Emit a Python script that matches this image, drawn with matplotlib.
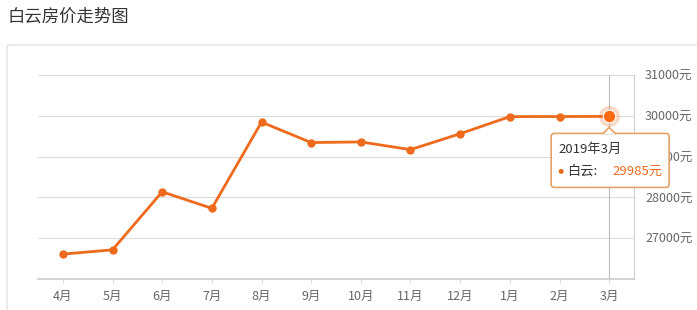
import matplotlib
matplotlib.use('Agg')
import matplotlib.pyplot as plt
from matplotlib.patches import FancyBboxPatch, Polygon, Circle
from matplotlib.transforms import IdentityTransform

plt.rcParams['font.family'] = ['Noto Sans CJK SC', 'DejaVu Sans']

months = ['4月', '5月', '6月', '7月', '8月', '9月', '10月', '11月', '12月', '1月', '2月', '3月']
prices = [26610, 26715, 28137, 27732, 29845, 29344, 29360, 29171, 29561, 29980, 29982, 29985]
y_ticks = [27000, 28000, 29000, 30000, 31000]
tip_title = '2019年3月'
tip_name = '白云'

W, H = 697, 310
orange = '#ee6a1c'
gray_text = '#666666'

fig = plt.figure(figsize=(W / 100, H / 100), dpi=100)
fig.patch.set_facecolor('white')


def fx(x):
    return x / W


def fy(y):
    return 1 - y / H


# outer panel
panel = FancyBboxPatch((fx(7), fy(330)), fx(700), fy(45) - fy(330),
                       boxstyle='round,pad=0,rounding_size=0.006',
                       transform=fig.transFigure, facecolor='white',
                       edgecolor='#e2e2e2', linewidth=1, zorder=-1)
fig.patches.append(panel)

fig.text(fx(7), fy(17), '白云房价走势图', fontsize=12.5, color='#333333',
         ha='left', va='center')

ax = fig.add_axes([fx(38), fy(279), fx(634) - fx(38), fy(75) - fy(279)])
ax.set_facecolor('none')
x = list(range(len(months)))
ax.set_xlim(-0.5, len(months) - 0.5)
ax.set_ylim(26000, 31000)

for v in y_ticks:
    ax.axhline(v, color='#dddddd', lw=0.8, zorder=1)

for s in ['left', 'top']:
    ax.spines[s].set_visible(False)
ax.spines['right'].set_color('#d0d0d0')
ax.spines['right'].set_linewidth(0.8)
ax.spines['bottom'].set_color('#cccccc')
ax.spines['bottom'].set_linewidth(1.2)

ax.yaxis.tick_right()
ax.set_yticks(y_ticks)
ax.set_yticklabels([f'{v}元' for v in y_ticks], fontsize=9, color=gray_text)
ax.tick_params(axis='y', length=0, pad=8)
ax.set_xticks(x)
ax.set_xticklabels(months, fontsize=9, color=gray_text)
ax.tick_params(axis='x', length=3, color='#dddddd', pad=5)

# axis pointer at last month
ax.axvline(x[-1], color='#bbbbbb', lw=0.8, zorder=2)

ax.plot(x, prices, color=orange, lw=2, marker='o', markersize=5,
        zorder=3, solid_joinstyle='round')
ax.plot(x[-1], prices[-1], 'o', color=orange, markersize=15, alpha=0.25,
        zorder=4, markeredgewidth=0)
ax.plot(x[-1], prices[-1], 'o', color='#ff6a10', markersize=9, zorder=5,
        markeredgecolor='white', markeredgewidth=0.8)

# tooltip in pixel coords relative to last point
fig.canvas.draw()
px, py = ax.transData.transform((x[-1], prices[-1]))
top = py - 17
box = FancyBboxPatch((px - 58, py - 71), 118, 54,
                     boxstyle='round,pad=0,rounding_size=3',
                     transform=IdentityTransform(), facecolor='white',
                     edgecolor='#e3a266', linewidth=1.2, zorder=10)
fig.patches.append(box)
arrow = Polygon([(px - 6, top - 0.5), (px, top + 6), (px + 6, top - 0.5)],
                closed=True, transform=IdentityTransform(), facecolor='white',
                edgecolor='none', zorder=11)
fig.patches.append(arrow)
fig.lines.append(plt.Line2D([px - 6, px, px + 6], [top, top + 6, top],
                            transform=IdentityTransform(), color='#e3a266',
                            lw=1.2, zorder=12))

fig.text(px - 51, py - 33, tip_title, transform=IdentityTransform(),
         fontsize=9.5, color='#333333', ha='left', va='center', zorder=13)
dot = Circle((px - 48, py - 55), 2.5, transform=IdentityTransform(),
             facecolor=orange, edgecolor='none', zorder=13)
fig.patches.append(dot)
fig.text(px - 42, py - 55, tip_name + ':', transform=IdentityTransform(),
         fontsize=9.5, color='#333333', ha='left', va='center', zorder=13)
fig.text(px + 3, py - 55, f'{prices[-1]}元', transform=IdentityTransform(),
         fontsize=9.5, color=orange, ha='left', va='center', zorder=13)

fig.savefig('out.png', dpi=100)
